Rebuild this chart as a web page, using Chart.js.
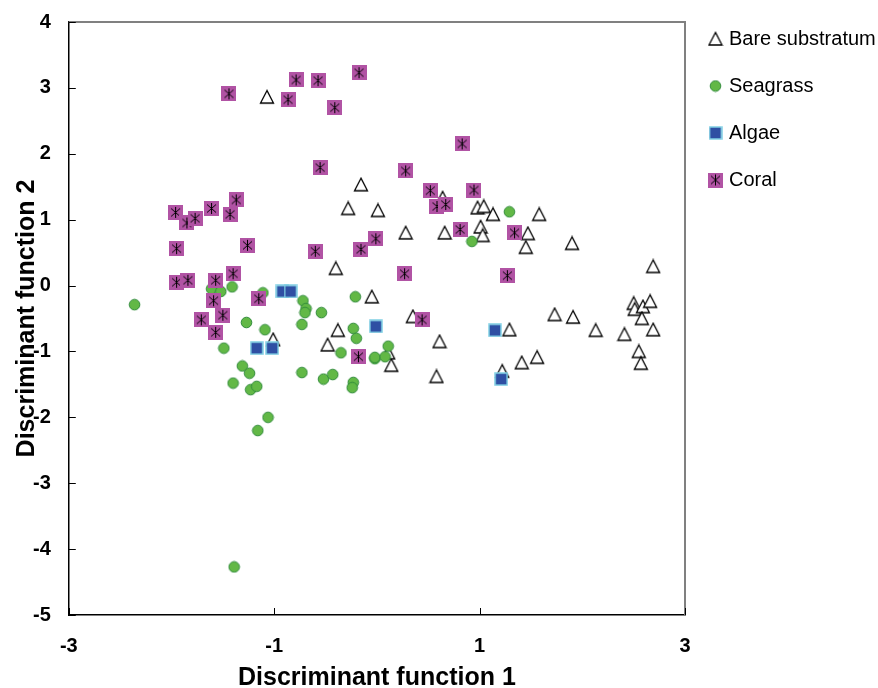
<!DOCTYPE html>
<html>
<head>
<meta charset="utf-8">
<script src="https://cdn.jsdelivr.net/npm/chart.js@4.4.1/dist/chart.umd.min.js"></script>
<style>
  html, body { margin: 0; padding: 0; background: #fff; }
  #wrap { width: 878px; height: 688px; }
</style>
</head>
<body>
<div id="wrap"><canvas id="dfaChart"></canvas></div>
<script>
// axis settings
const xMin = -3, xMax = 3, xStep = 2;
const yMin = -5, yMax = 4, yStep = 1;

// Bare substratum
const bareX = [-1.07, -0.155, -0.28, 0.01, -0.40, -0.05, -0.38, -0.48, -1.01, 0.64, 0.98, 1.04, 1.13, 1.58,
  0.28, 0.66, 1.01, 1.03, 1.47, 1.45, 1.90, 2.69, 0.35, 0.61, 0.14, 0.58, 1.22, 1.29, 1.41, 1.56,
  1.73, 1.91, 2.13, 2.41, 2.50, 2.51, 2.59, 2.66, 2.58, 2.69, 2.55, 2.57, 0.11];
const bareY = [2.86, 1.53, 1.17, 1.14, 0.26, -0.17, -0.68, -0.90, -0.82, 1.33, 1.18, 1.20, 1.08, 1.08,
  0.80, 0.80, 0.89, 0.76, 0.79, 0.58, 0.64, 0.29, -0.47, -0.85, -1.21, -1.38, -1.30, -0.67, -1.17, -1.09,
  -0.44, -0.48, -0.68, -0.74, -0.27, -0.36, -0.32, -0.24, -0.50, -0.67, -1.00, -1.18, -1.02];

// Seagrass
const seagrassX = [-2.36, -1.61, -1.52, -1.41, -1.11, -0.72, -0.69, -0.70, -0.54, -0.73, -1.27, -1.09, -1.49,
  -0.21, -0.23, -0.20, -0.35, -0.02, -1.31, -1.24, -1.40, -1.23, -1.17, -0.73, -0.52, -0.43, -0.23, -0.24,
  -1.06, -1.16, 0.11, -0.02, 0.08, 1.29, 0.925, -1.39];
const seagrassY = [-0.29, -0.05, -0.09, -0.02, -0.11, -0.23, -0.35, -0.41, -0.41, -0.59, -0.56, -0.67, -0.95,
  -0.17, -0.65, -0.80, -1.02, -1.11, -1.22, -1.33, -1.48, -1.58, -1.53, -1.32, -1.42, -1.35, -1.47, -1.55,
  -2.00, -2.20, -0.92, -1.09, -1.08, 1.12, 0.67, -4.27];

// Algae
const algaeX = [-0.92, -0.84, -1.17, -1.02, -0.01, 1.15, 1.21];
const algaeY = [-0.09, -0.09, -0.95, -0.95, -0.62, -0.68, -1.42];

// Coral
const coralX = [-1.44, -0.865, -0.787, -0.573, -0.41, -0.174, -0.553, -1.96, -1.85, -1.77, -1.61, -1.43, -1.37,
  -1.95, -1.26, -0.60, -0.155, -0.01, -1.95, -1.84, -1.57, -1.40, -1.59, -1.15, -1.71, -1.50, -1.57, -0.18,
  0.83, 0.28, 0.52, 0.585, 0.67, 0.945, 0.81, 1.34, 0.27, 1.27, 0.44];
const coralY = [2.91, 2.82, 3.12, 3.11, 2.70, 3.23, 1.79, 1.11, 0.95, 1.02, 1.17, 1.08, 1.30,
  0.56, 0.61, 0.52, 0.55, 0.71, 0.05, 0.08, 0.08, 0.18, -0.23, -0.20, -0.52, -0.45, -0.71, -1.08,
  2.15, 1.74, 1.44, 1.20, 1.23, 1.45, 0.85, 0.80, 0.18, 0.15, -0.52];

const toPoints = (xs, ys) => xs.map((x, i) => ({ x: x, y: ys[i] }));

// marker images
function makeMarker(w, h, draw) {
  const c = document.createElement('canvas');
  c.width = w; c.height = h;
  draw(c.getContext('2d'));
  return c;
}

const triangleMark = makeMarker(16, 16, g => {
  g.beginPath();
  g.moveTo(8, 1.5);
  g.lineTo(1.5, 14);
  g.lineTo(14.5, 14);
  g.closePath();
  g.fillStyle = '#ffffff';
  g.fill();
  g.lineWidth = 1.3;
  g.strokeStyle = '#000000';
  g.stroke();
});

const circleMark = makeMarker(13, 13, g => {
  g.beginPath();
  g.arc(6.5, 6.5, 5.3, 0, Math.PI * 2);
  g.fillStyle = '#62b846';
  g.fill();
  g.lineWidth = 1;
  g.strokeStyle = '#2f8a3a';
  g.stroke();
});

const squareMark = makeMarker(14, 14, g => {
  g.fillStyle = '#2f4fa3';
  g.fillRect(1, 1, 12, 12);
  g.lineWidth = 1.5;
  g.strokeStyle = '#80d0e4';
  g.strokeRect(1, 1, 12, 12);
});

const coralMark = makeMarker(15, 15, g => {
  g.fillStyle = '#b153a4';
  g.fillRect(0, 0, 15, 15);
  g.strokeStyle = '#000000';
  g.lineWidth = 1;
  g.beginPath();
  g.moveTo(7.5, 2); g.lineTo(7.5, 13);
  g.moveTo(3, 3.5); g.lineTo(12, 11.5);
  g.moveTo(12, 3.5); g.lineTo(3, 11.5);
  g.stroke();
});

// grey top/right frame and inward tick marks
const framePlugin = {
  id: 'frame',
  beforeDatasetsDraw(chart) {
    const { ctx, chartArea: a, scales } = chart;
    ctx.save();
    ctx.strokeStyle = '#808080';
    ctx.lineWidth = 2;
    ctx.beginPath();
    ctx.moveTo(a.left, a.top);
    ctx.lineTo(a.right, a.top);
    ctx.lineTo(a.right, a.bottom);
    ctx.stroke();

    ctx.strokeStyle = '#000000';
    ctx.lineWidth = 1;
    ctx.beginPath();
    scales.x.ticks.forEach(t => {
      const px = Math.round(scales.x.getPixelForValue(t.value)) + 0.5;
      ctx.moveTo(px, a.bottom);
      ctx.lineTo(px, a.bottom - 7);
    });
    scales.y.ticks.forEach(t => {
      const py = Math.round(scales.y.getPixelForValue(t.value)) + 0.5;
      ctx.moveTo(a.left, py);
      ctx.lineTo(a.left + 7, py);
    });
    ctx.stroke();
    ctx.restore();
  }
};

const fontFamily = "'Liberation Sans', Arial, Helvetica, sans-serif";

new Chart(document.getElementById('dfaChart').getContext('2d'), {
  type: 'scatter',
  data: {
    datasets: [
      { label: 'Bare substratum', data: toPoints(bareX, bareY), pointStyle: triangleMark, order: 4 },
      { label: 'Seagrass', data: toPoints(seagrassX, seagrassY), pointStyle: circleMark, order: 3 },
      { label: 'Algae', data: toPoints(algaeX, algaeY), pointStyle: squareMark, order: 2 },
      { label: 'Coral', data: toPoints(coralX, coralY), pointStyle: coralMark, order: 1 }
    ]
  },
  options: {
    responsive: true,
    maintainAspectRatio: false,
    animation: false,
    layout: { padding: { top: 2, right: 0, bottom: 0, left: 0 } },
    plugins: {
      tooltip: { enabled: false },
      legend: {
        position: 'right',
        align: 'start',
        maxWidth: 193,
        labels: {
          usePointStyle: true,
          boxWidth: 7,
          boxHeight: 7,
          padding: 27,
          color: '#000',
          font: { family: fontFamily, size: 20 },
          sort: (a, b) => a.datasetIndex - b.datasetIndex
        }
      }
    },
    scales: {
      x: {
        type: 'linear',
        min: xMin,
        max: xMax,
        ticks: {
          stepSize: xStep,
          padding: 19,
          color: '#000',
          font: { family: fontFamily, size: 20, weight: 'bold' }
        },
        grid: { drawOnChartArea: false, drawTicks: false },
        border: { color: '#000', width: 1.5 },
        title: {
          display: true,
          text: 'Discriminant function 1',
          color: '#000',
          font: { family: fontFamily, size: 25, weight: 'bold' },
          padding: { top: -14, bottom: -5 }
        }
      },
      y: {
        type: 'linear',
        min: yMin,
        max: yMax,
        ticks: {
          stepSize: yStep,
          padding: 18,
          color: '#000',
          font: { family: fontFamily, size: 20, weight: 'bold', lineHeight: 0.4 }
        },
        grid: { drawOnChartArea: false, drawTicks: false },
        border: { color: '#000', width: 1.5 },
        title: {
          display: true,
          text: 'Discriminant function 2',
          color: '#000',
          font: { family: fontFamily, size: 25, weight: 'bold' },
          padding: { top: 12, bottom: -27 }
        }
      }
    }
  },
  plugins: [framePlugin]
});
</script>
</body>
</html>
